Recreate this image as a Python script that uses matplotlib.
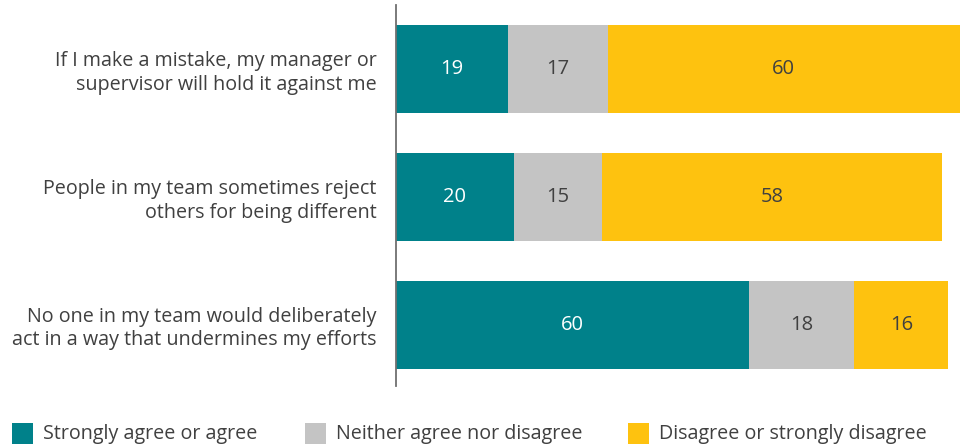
import matplotlib
matplotlib.use("Agg")
import matplotlib.pyplot as plt
from matplotlib.patches import Rectangle

plt.rcParams['font.family'] = ['Open Sans', 'DejaVu Sans']

statements = [
    "If I make a mistake, my manager or\nsupervisor will hold it against me",
    "People in my team sometimes reject\nothers for being different",
    "No one in my team would deliberately\nact in a way that undermines my efforts",
]
series_names = ["Strongly agree or agree", "Neither agree nor disagree", "Disagree or strongly disagree"]
agree = [19, 20, 60]
neutral = [17, 15, 18]
disagree = [60, 58, 16]

colors = ["#00818A", "#C4C4C4", "#FEC20F"]
label_colors = ["white", "#404040", "#404040"]
text_color = "#404040"

fig = plt.figure(figsize=(9.6, 4.48), dpi=100)
ax = fig.add_axes([396 / 960, 1 - 386 / 448, 1 - 396 / 960, (386 - 5) / 448])

ypos = list(range(len(statements)))
left = [0] * len(statements)
for vals, col, lc in zip([agree, neutral, disagree], colors, label_colors):
    bars = ax.barh(ypos, vals, left=left, height=0.69, color=col, edgecolor="none")
    for b, v in zip(bars, vals):
        ax.text(b.get_x() + b.get_width() / 2, b.get_y() + b.get_height() / 2, f"{v}",
                ha="center", va="center", color=lc, fontsize=14.5)
    left = [l + v for l, v in zip(left, vals)]

ax.set_xlim(0, 96)
ax.set_ylim(2.48, -0.5)
ax.set_yticks(ypos)
ax.set_yticklabels(statements, fontsize=14.2, color=text_color,
                   multialignment="right", linespacing=1.22)
ax.tick_params(axis="y", length=0, pad=14)
ax.set_xticks([])
for side in ["top", "right", "bottom"]:
    ax.spines[side].set_visible(False)
ax.spines["left"].set_color("#707070")
ax.spines["left"].set_linewidth(1.3)

# Legend drawn along the bottom edge
legend_x = [12, 305, 628]
for x, col, name in zip(legend_x, colors, series_names):
    fig.add_artist(Rectangle((x / 960, 1 - 444 / 448), 21 / 960, 21 / 448,
                             transform=fig.transFigure, color=col, lw=0))
    fig.text((x + 31) / 960, 1 - 434 / 448, name, ha="left", va="center",
             fontsize=14.2, color=text_color)

fig.savefig("out.png", dpi=100)
